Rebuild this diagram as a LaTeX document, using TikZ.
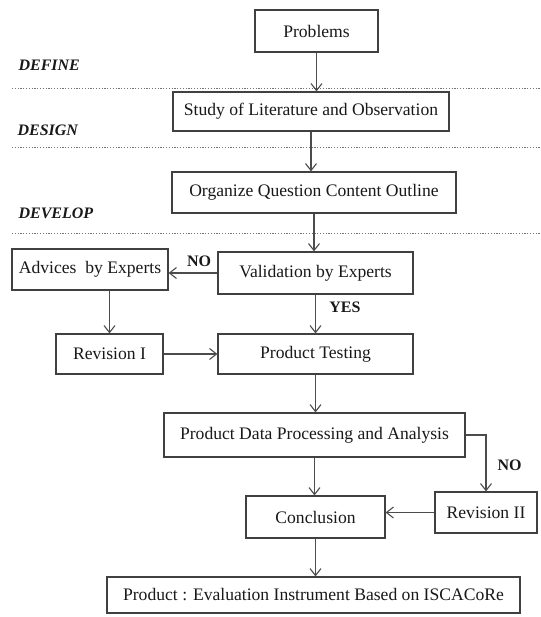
\documentclass[tikz,border=0pt]{standalone}
\usepackage{fontspec}
\setmainfont{Liberation Serif}
\usetikzlibrary{arrows.meta}
\begin{document}
\begin{tikzpicture}[x=1pt,y=-1pt,
  box/.style={draw=black!75,line width=1.2pt,fill=white,inner sep=0pt,font=\fontsize{17.6}{19}\selectfont,text=black!90},
  conn/.style={draw=black!70,line width=1.3pt,-{Straight Barb[length=7pt,width=11pt,line width=1.1pt]}},
  phase/.style={font=\fontsize{16}{18}\selectfont\bfseries\itshape,anchor=west,text=black!90},
  lbl/.style={font=\fontsize{16}{18}\selectfont\bfseries,text=black!90},
  sep/.style={draw=black!55,line width=0.9pt,dash pattern=on 1.2pt off 1.6pt}]
\useasboundingbox (0,0) rectangle (540,617);
% boxes
\node[box,minimum width=123pt,minimum height=42pt] (prob) at (316.5,31) {Problems};
\node[box,minimum width=276pt,minimum height=39pt] (study) at (311,111.5) {Study of Literature and Observation};
\node[box,minimum width=284pt,minimum height=41pt] (org) at (314,192.5) {Organize Question Content Outline};
\node[box,minimum width=156pt,minimum height=41pt] (adv) at (90,269.5) {Advices\ \ by Experts};
\node[box,minimum width=195pt,minimum height=42pt] (val) at (315.5,273) {Validation by Experts};
\node[box,minimum width=107pt,minimum height=40pt] (rev1) at (109.5,354) {Revision I};
\node[box,minimum width=195pt,minimum height=40pt] (test) at (315.5,354) {Product Testing};
\node[box,minimum width=301pt,minimum height=44pt] (pd) at (314.5,435) {Product Data Processing and Analysis};
\node[box,minimum width=102pt,minimum height=41pt] (rev2) at (486,512.5) {Revision II};
\node[box,minimum width=139pt,minimum height=42pt] (conc) at (315.5,517) {Conclusion};
\node[box,minimum width=413pt,minimum height=36pt] (fin) at (313.5,595) {Product : Evaluation Instrument Based on ISCACoRe};
% separators
\coordinate (s1a) at (12,88); \coordinate (s1b) at (540,88);
\coordinate (s2a) at (12,147); \coordinate (s2b) at (540,147);
\coordinate (s3a) at (12,233); \coordinate (s3b) at (540,233);
\draw[sep] (s1a) -- (s1b);
\draw[sep] (s2a) -- (s2b);
\draw[sep] (s3a) -- (s3b);
% phase labels
\node[phase] (def) at (15,65) {DEFINE};
\node[phase] (des) at (14,130) {DESIGN};
\node[phase] (dev) at (15,213) {DEVELOP};
% connectors
\draw[conn] (prob.south) -- (prob.south |- study.north);
\draw[conn] (study.south) -- (study.south |- org.north);
\draw[conn] (org.south) -- (org.south |- val.north);
\draw[conn] (val.west) -- (val.west -| adv.east);
\draw[conn] (rev1.north |- adv.south) -- (rev1.north);
\draw[conn] (val.south) -- (val.south |- test.north);
\draw[conn] (rev1.east) -- (rev1.east -| test.west);
\draw[conn] (test.south) -- (test.south |- pd.north);
\draw[conn] (pd.south) -- (pd.south |- conc.north);
\draw[conn] (pd.east) -| (rev2.north);
\draw[conn] (rev2.west) -- (rev2.west -| conc.east);
\draw[conn] (conc.south) -- (conc.south |- fin.north);
% branch labels
\node[lbl] (no1) at (199,261) {NO};
\node[lbl] (yes) at (345,307) {YES};
\node[lbl,anchor=west] (no2) at (494,465) {NO};
\end{tikzpicture}
\end{document}
